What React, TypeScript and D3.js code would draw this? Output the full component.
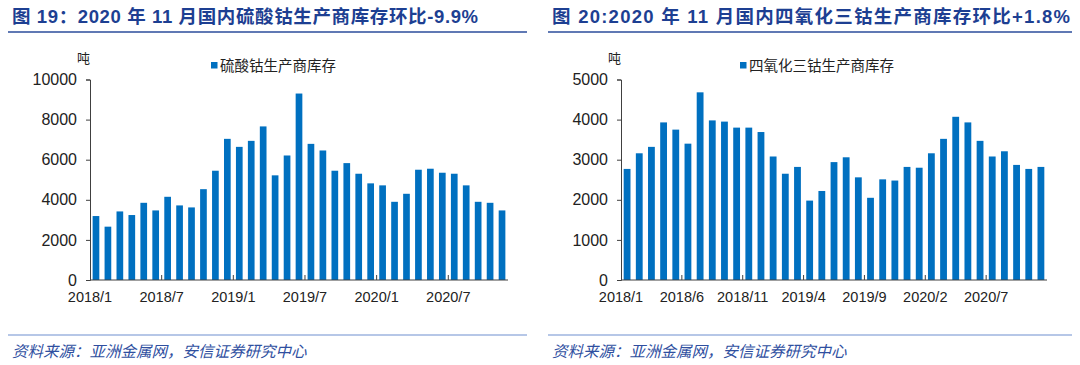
import React, { useEffect, useRef } from "react";
import * as d3 from "d3";

// monthly categories 2018/1 .. 2020/11
const months = d3.range(35).map((i) => `${2018 + Math.floor(i / 12)}/${(i % 12) + 1}`);

// 硫酸钴生产商库存 (吨)
const sulfateStock = [
  3190, 2660, 3420, 3240, 3850, 3470, 4150, 3720, 3620, 4530, 5450, 7040,
  6640, 6940, 7660, 5220, 6210, 9300, 6790, 6460, 5450, 5830, 5300, 4820,
  4720, 3900, 4300, 5500, 5550, 5350, 5300, 4720, 3900, 3850, 3470,
];

// 四氧化三钴生产商库存 (吨)
const oxideStock = [
  2770, 3160, 3320, 3930, 3750, 3400, 4680, 3980, 3950, 3800, 3800, 3690,
  3080, 2650, 2820, 1980, 2220, 2940, 3060, 2560, 2050, 2510, 2480, 2820,
  2800, 3160, 3520, 4070, 3930, 3470, 3080, 3210, 2870, 2770, 2820,
];

const leftTicks = ["2018/1", "2018/7", "2019/1", "2019/7", "2020/1", "2020/7"];
const rightTicks = ["2018/1", "2018/6", "2018/11", "2019/4", "2019/9", "2020/2", "2020/7"];
const leftYTicks = [0, 2000, 4000, 6000, 8000, 10000];
const rightYTicks = [0, 1000, 2000, 3000, 4000, 5000];

const FONT = "'Liberation Sans', Arial, 'Noto Sans CJK SC', sans-serif";
const BAR = "#0070C0";
const NAVY = "#1d3f92";

function Panel(props: any) {
  const { ox, width, title, titleLen, legend, values, yMax, yTicks, xTicks, left, right, legendX } = props;
  const ref = useRef<SVGGElement>(null);

  useEffect(() => {
    const g = d3.select(ref.current);
    g.selectAll("*").remove();

    const top = 79.5, bottom = 280;
    const x = d3.scaleBand().domain(months).range([left, right]).paddingInner(0.44).paddingOuter(0.22);
    const y = d3.scaleLinear().domain([0, yMax]).range([bottom, top]);

    // title + rule
    g.append("text")
      .attr("x", 12).attr("y", 23)
      .attr("textLength", titleLen).attr("lengthAdjust", "spacing")
      .style("font-family", FONT).style("font-size", "18.5px").style("font-weight", "bold")
      .attr("fill", NAVY)
      .text(title);
    g.append("line").attr("x1", 8).attr("x2", width).attr("y1", 32).attr("y2", 32)
      .attr("stroke", "#2b4c9b").attr("stroke-width", 1.5);

    // bars
    g.selectAll("rect.bar")
      .data(values)
      .enter().append("rect")
      .attr("class", "bar")
      .attr("x", (d, i) => x(months[i]))
      .attr("width", x.bandwidth())
      .attr("y", (d: any) => y(d))
      .attr("height", (d: any) => bottom - y(d))
      .attr("fill", BAR);

    // y axis
    const ya = g.append("g").attr("transform", `translate(${left},0)`)
      .call(d3.axisLeft(y).tickValues(yTicks).tickSize(4).tickPadding(9).tickFormat(d3.format("d")));
    ya.select(".domain").attr("stroke", "#404040");
    ya.selectAll(".tick line").attr("stroke", "#404040");
    ya.selectAll("text").style("font-family", FONT).style("font-size", "16px").attr("fill", "#222");

    // x axis
    g.append("line").attr("x1", left).attr("x2", right).attr("y1", bottom).attr("y2", bottom)
      .attr("stroke", "#404040");
    const step = x.step();
    const xt = g.selectAll("g.xt").data(xTicks).enter().append("g")
      .attr("transform", (d: any) => `translate(${left + months.indexOf(d) * step},${bottom})`);
    xt.filter((d, i) => i > 0).append("line").attr("y1", 0).attr("y2", -5).attr("stroke", "#404040");
    xt.append("text").attr("y", 22).attr("text-anchor", "middle")
      .style("font-family", FONT).style("font-size", "14.5px").attr("fill", "#222")
      .text((d: any) => d);

    // unit
    g.append("text").attr("x", left - 13).attr("y", 63)
      .style("font-family", FONT).style("font-size", "13px").attr("fill", "#222").text("吨");

    // legend
    g.append("rect").attr("x", legendX).attr("y", 62).attr("width", 6.5).attr("height", 6.5).attr("fill", BAR);
    g.append("text").attr("x", legendX + 9).attr("y", 71)
      .style("font-family", FONT).style("font-size", "14.5px").attr("fill", "#222").text(legend);

    // source
    g.append("line").attr("x1", 8).attr("x2", width).attr("y1", 335).attr("y2", 335)
      .attr("stroke", "#6f8fd0").attr("stroke-width", 1.2);
    g.append("text").attr("x", 12).attr("y", 357)
      .style("font-family", FONT).style("font-size", "15.5px").style("font-style", "italic")
      .attr("fill", "#2f4f9f").text("资料来源：亚洲金属网，安信证券研究中心");
  }, []);

  return <g ref={ref} transform={`translate(${ox},0)`} />;
}

export default function App() {
  return (
    <svg width={1080} height={365} style={{ position: "absolute", left: 0, top: 0, background: "#fff" }}>
      <Panel
        ox={0} width={527} titleLen={466}
        title="图 19：2020 年 11 月国内硫酸钴生产商库存环比-9.9%"
        legend="硫酸钴生产商库存"
        values={sulfateStock} yMax={10000} yTicks={leftYTicks} xTicks={leftTicks}
        left={90} right={508} legendX={211}
      />
      <Panel
        ox={540} width={532} titleLen={518}
        title="图 20:2020 年 11 月国内四氧化三钴生产商库存环比+1.8%"
        legend="四氧化三钴生产商库存"
        values={oxideStock} yMax={5000} yTicks={rightYTicks} xTicks={rightTicks}
        left={81} right={507} legendX={200}
      />
    </svg>
  );
}
